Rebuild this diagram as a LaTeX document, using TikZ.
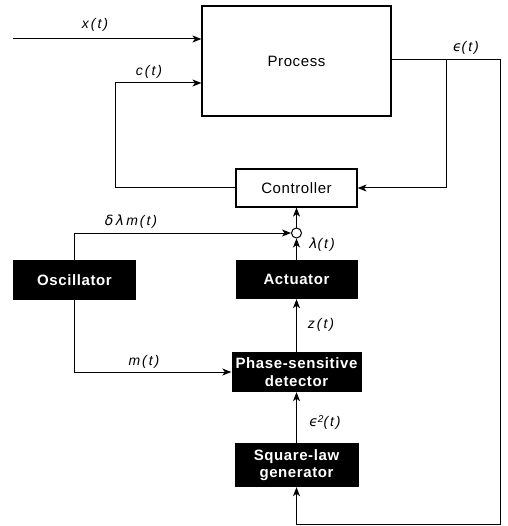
\documentclass[tikz,border=0pt]{standalone}
\usepackage{fontspec}
\setmainfont{Liberation Sans}
\newfontfamily\gk{DejaVu Sans}
\usetikzlibrary{arrows.meta}
\begin{document}
\begin{tikzpicture}[x=1pt,y=-1pt,
  wbox/.style={draw, line width=1.2pt, fill=white, inner sep=0pt, font=\fontsize{15}{17}\selectfont\addfontfeature{LetterSpace=4}},
  bbox/.style={fill=black, text=white, inner sep=0pt, align=center, font=\fontsize{15}{17.5}\selectfont\bfseries\addfontfeature{LetterSpace=4}},
  lab/.style={font=\fontsize{14}{16}\selectfont\itshape\addfontfeature{LetterSpace=14}, inner sep=0pt},
  arr/.style={line width=1pt, -{Stealth[length=9pt,width=7pt,inset=2.5pt]}},
  ln/.style={line width=1pt}]
\useasboundingbox (0,0) rectangle (507,526);
% blocks
\node[wbox, minimum width=189pt, minimum height=110pt] (process) at (296.5,61) {Process};
\node[wbox, minimum width=121pt, minimum height=38pt] (controller) at (296.5,188) {Controller};
\node[bbox, minimum width=122pt, minimum height=39pt] (actuator) at (296.5,279.5) {Actuator};
\node[bbox, minimum width=123pt, minimum height=40pt] (oscillator) at (74.5,280) {Oscillator};
\node[bbox, minimum width=130pt, minimum height=40pt] (psd) at (296.5,372) {Phase-sensitive\\detector};
\node[bbox, minimum width=124pt, minimum height=44pt] (sq) at (296.5,465) {Square-law\\generator};
\node[draw, circle, line width=1pt, minimum size=10pt, inner sep=0pt] (sum) at (296.5,233) {};
% coordinates
\coordinate (xin) at (13,39);
\coordinate (cc) at (115,83);
\coordinate (e1) at (446,60);
\coordinate (e2) at (500,60);
\coordinate (br) at (500,524);
% connectors
\draw[arr] (xin) -- (xin -| process.west);
\draw[arr] (controller.west) -| (cc) -- (cc -| process.west);
\draw[arr] (process.east |- e2) -- (e2) -- (br) -- (br -| sq.south) -- (sq.south);
\draw[arr] (e1) |- (controller.east);
\draw[arr] (sum) -- (controller.south);
\draw[arr] (actuator.north) -- (sum);
\draw[arr] (oscillator.north) |- (sum.west);
\draw[arr] (oscillator.south) |- (psd.west);
\draw[arr] (psd.north) -- (actuator.south);
\draw[arr] (sq.north) -- (psd.south);
% labels
\node[lab] (lx) at (95,25) {x(t)};
\node[lab] (lc) at (149,72) {c(t)};
\node[lab] (le) at (466,48) {{\gk\itshape ϵ}(t)};
\node[lab] (ld) at (131,222) {{\gk δ\,λ\,}m(t)};
\node[lab] (ll) at (322,245) {{\gk λ}(t)};
\node[lab] (lz) at (321,325) {z(t)};
\node[lab] (lm) at (144,362) {m(t)};
\node[lab] (le2) at (325,422) {{\gk\itshape ϵ}\raisebox{4pt}{\fontsize{10}{12}\selectfont 2}(t)};
\end{tikzpicture}
\end{document}
